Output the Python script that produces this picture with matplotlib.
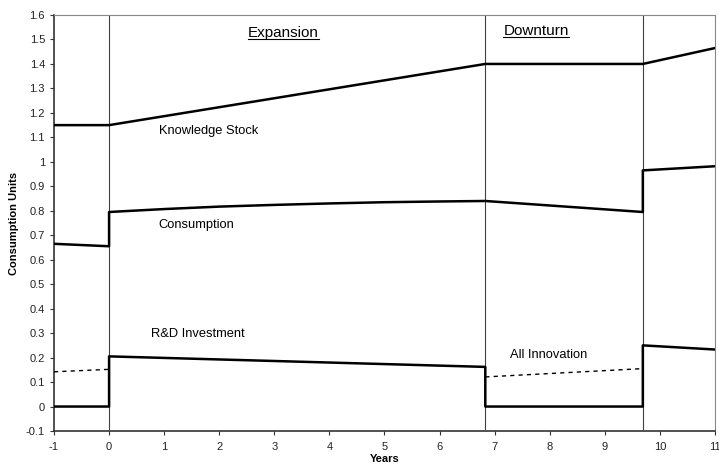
import matplotlib
matplotlib.use("Agg")
import matplotlib.pyplot as plt

plt.rcParams['font.family'] = ['Liberation Sans', 'DejaVu Sans']
plt.rcParams['axes.unicode_minus'] = False

# Data
ks_x = [-1, 0, 6.83, 9.69, 11]
ks_y = [1.15, 1.15, 1.40, 1.40, 1.465]

cons_x = [-1, 0, 0, 1, 2, 3, 4, 5, 6, 6.83, 9.69, 9.69, 11]
cons_y = [0.665, 0.655, 0.795, 0.807, 0.817, 0.824, 0.830, 0.835, 0.838, 0.840, 0.795, 0.965, 0.982]

rd_x = [-1, 0, 0, 6.83, 6.83, 9.69, 9.69, 11]
rd_y = [0.0, 0.0, 0.205, 0.162, 0.0, 0.0, 0.25, 0.233]

inno1_x = [-1, 0]
inno1_y = [0.142, 0.152]
inno2_x = [6.83, 9.69]
inno2_y = [0.121, 0.155]

phase_x = [0, 6.83, 9.69]

xticks = list(range(-1, 12))
yticks = [round(-0.1 + 0.1 * i, 1) for i in range(18)]
ytick_labels = [("%g" % v) for v in yticks]

fig = plt.figure(figsize=(7.19, 4.69), dpi=100)
ax = fig.add_axes([0.0751, 0.081, 0.9193, 0.887])

for px in phase_x:
    ax.plot([px, px], [-0.09, 1.6], color='#404040', lw=0.8, zorder=1)

ax.plot(ks_x, ks_y, color='black', lw=1.8, zorder=3)
ax.plot(cons_x, cons_y, color='black', lw=1.8, zorder=3)
ax.plot(rd_x, rd_y, color='black', lw=1.8, zorder=3)
ax.plot(inno1_x, inno1_y, color='black', lw=1.0, ls=(0, (3, 3)), zorder=3)
ax.plot(inno2_x, inno2_y, color='black', lw=1.0, ls=(0, (3, 3)), zorder=3)

ax.set_xlim(-1, 11)
ax.set_ylim(-0.1, 1.6)
ax.set_xticks(xticks)
ax.set_yticks(yticks)
ax.set_yticklabels(ytick_labels)
ax.tick_params(axis='both', labelsize=8, direction='out', length=3, width=0.8, colors='#333333', labelcolor='#222222')
ax.tick_params(axis='x', pad=5)

for s in ['left', 'bottom']:
    ax.spines[s].set_color('#333333')
    ax.spines[s].set_linewidth(1.2)
for s in ['top', 'right']:
    ax.spines[s].set_color('#888888')
    ax.spines[s].set_linewidth(0.8)

ax.set_xlabel('Years', fontsize=8, fontweight='bold', labelpad=1)
ax.set_ylabel('Consumption Units', fontsize=8, fontweight='bold', labelpad=5)

t1 = ax.text(3.16, 1.525, 'Expansion', fontsize=11, ha='center', va='center')
t2 = ax.text(7.75, 1.535, 'Downturn', fontsize=11, ha='center', va='center')

fig.canvas.draw()
renderer = fig.canvas.get_renderer()
inv = ax.transData.inverted()
for t in (t1, t2):
    bb = t.get_window_extent(renderer)
    (x0, y0) = inv.transform((bb.x0, bb.y0 + 1))
    (x1, _) = inv.transform((bb.x1, bb.y0 + 1))
    ax.plot([x0, x1], [y0, y0], color='black', lw=0.8)

ax.text(0.9, 1.125, 'Knowledge Stock', fontsize=9.3, ha='left', va='center')
ax.text(0.9, 0.74, 'Consumption', fontsize=9.3, ha='left', va='center')
ax.text(0.77, 0.295, 'R&D Investment', fontsize=9.3, ha='left', va='center')
ax.text(7.28, 0.21, 'All Innovation', fontsize=9.3, ha='left', va='center')

fig.savefig('out.png', dpi=100)
